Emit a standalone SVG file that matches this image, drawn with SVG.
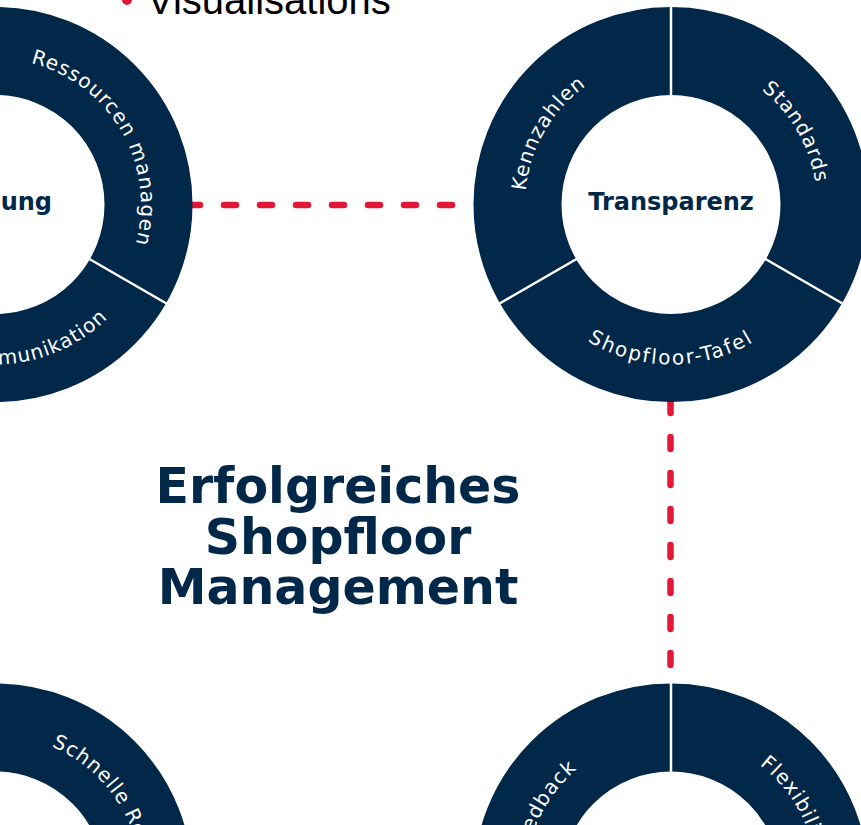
<svg xmlns="http://www.w3.org/2000/svg" xmlns:xlink="http://www.w3.org/1999/xlink" width="861" height="825" viewBox="0 0 861 825">
<style>
.ring{fill:none;stroke:#012749;stroke-width:88}
.div{stroke:#ffffff;stroke-width:2.5}
.lbl{font-family:"DejaVu Sans",sans-serif;font-size:20px;fill:#ffffff;letter-spacing:1px}
.wide{letter-spacing:2px}
.core{font-family:"DejaVu Sans",sans-serif;font-weight:bold;font-size:24px;fill:#012749}
.title{font-family:"DejaVu Sans",sans-serif;font-weight:bold;font-size:49px;fill:#012749}
.conn{stroke:#E31837;stroke-width:6.5;stroke-linecap:round;stroke-dasharray:12 24;fill:none}
</style>
<defs>
<path id="arcTR" d="M 0 -146 A 146 146 0 0 1 126.44 73"/>
<path id="arcTL" d="M -126.44 73 A 146 146 0 0 1 0 -146"/>
<path id="arcB" d="M -138.56 80 A 160 160 0 0 0 138.56 80"/>
<g id="dividers">
<line class="div" x1="0" y1="-107" x2="0" y2="-200"/>
<line class="div" x1="92.66" y1="53.5" x2="173.2" y2="100"/>
<line class="div" x1="-92.66" y1="53.5" x2="-173.2" y2="100"/>
</g>
</defs>
<rect width="861" height="825" fill="#ffffff"/>

<g id="bullet-text">
<circle cx="127" cy="0" r="5" fill="#E31837"/>
<text x="147" y="14" font-family="Liberation Sans, Arial, sans-serif" font-size="40" fill="#000000">Visualisations</text>
</g>

<g id="connectors">
<line class="conn" x1="188" y1="205" x2="455" y2="205"/>
<line class="conn" x1="670.5" y1="665" x2="670.5" y2="392"/>
</g>

<g id="node-left-top" transform="translate(-5,204.5)">
<circle class="ring" r="153.5"/>
<use xlink:href="#dividers"/>
<text class="lbl"><textPath xlink:href="#arcTR" startOffset="50%" text-anchor="middle">Ressourcen managen</textPath></text>
<text class="lbl"><textPath xlink:href="#arcB" startOffset="293" text-anchor="end">Kommunikation</textPath></text>
<text class="core" x="57" y="5.5" text-anchor="end">ung</text>
</g>

<g id="node-transparenz" transform="translate(671,204.5)">
<circle class="ring" r="153.5"/>
<use xlink:href="#dividers"/>
<text class="lbl"><textPath xlink:href="#arcTL" startOffset="50%" text-anchor="middle">Kennzahlen</textPath></text>
<text class="lbl"><textPath xlink:href="#arcTR" startOffset="50%" text-anchor="middle">Standards</textPath></text>
<text class="lbl wide"><textPath xlink:href="#arcB" startOffset="50%" text-anchor="middle">Shopfloor-Tafel</textPath></text>
<text class="core" x="0" y="5" text-anchor="middle">Transparenz</text>
</g>

<g id="node-left-bottom" transform="translate(-5,881)">
<circle class="ring" r="153.5"/>
<use xlink:href="#dividers"/>
<text class="lbl"><textPath xlink:href="#arcTR" startOffset="58">Schnelle Re</textPath></text>
</g>

<g id="node-right-bottom" transform="translate(671,881)">
<circle class="ring" r="153.5"/>
<use xlink:href="#dividers"/>
<text class="lbl"><textPath xlink:href="#arcTL" startOffset="50%" text-anchor="middle">Feedback</textPath></text>
<text class="lbl"><textPath xlink:href="#arcTR" startOffset="50%" text-anchor="middle">Flexibilität</textPath></text>
</g>

<g id="title">
<text class="title" text-anchor="middle"><tspan x="338" y="503">Erfolgreiches</tspan><tspan x="338" y="553.5">Shopfloor</tspan><tspan x="338" y="604">Management</tspan></text>
</g>
</svg>
